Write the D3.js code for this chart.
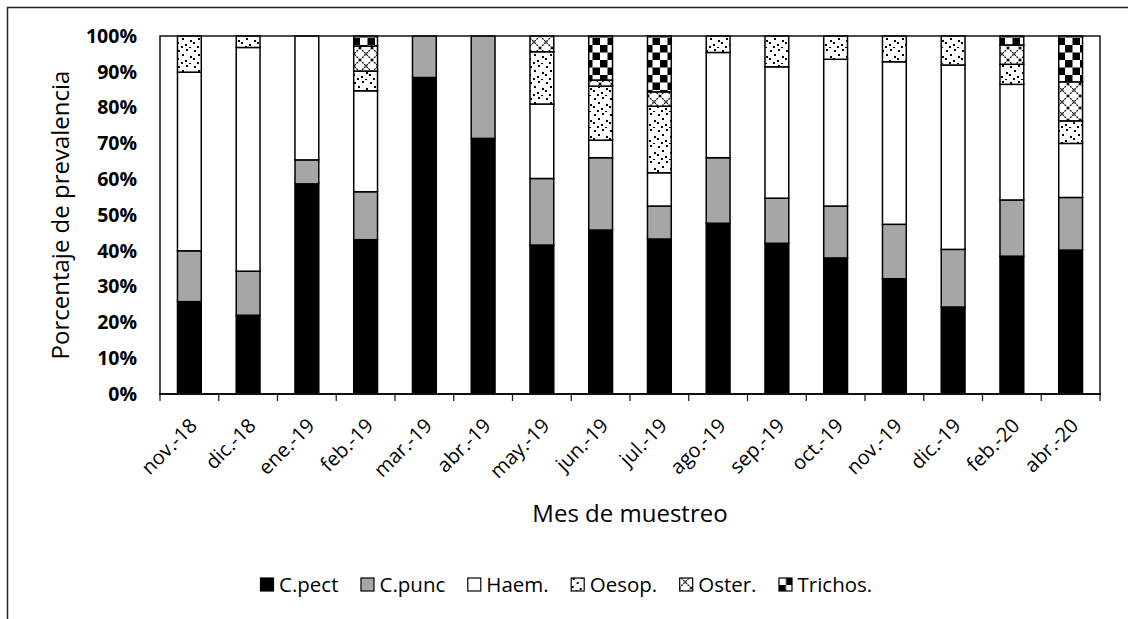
<!DOCTYPE html>
<html>
<head>
<meta charset="utf-8">
<script src="https://cdn.jsdelivr.net/npm/d3@7"></script>
<style>
  html, body { margin: 0; padding: 0; background: #fff; }
  svg { display: block; font-family: "Open Sans", "Noto Sans", sans-serif; }
</style>
</head>
<body>
<svg id="chart" width="1128" height="619"></svg>
<script>
const categories = ["nov.-18","dic.-18","ene.-19","feb.-19","mar.-19","abr.-19","may.-19","jun.-19","jul.-19","ago.-19","sep.-19","oct.-19","nov.-19","dic.-19","feb.-20","abr.-20"];
const seriesNames = ["C.pect","C.punc","Haem.","Oesop.","Oster.","Trichos."];
const cPect   = [25.8,22.0,58.7,43.1,88.4,71.4,41.6,45.8,43.3,47.7,42.1,38.0,32.2,24.3,38.5,40.2];
const cPunc   = [14.2,12.3, 6.7,13.4,11.6,28.6,18.6,20.2, 9.2,18.3,12.6,14.5,15.2,16.1,15.7,14.7];
const haem    = [49.9,62.5,34.6,28.2, 0.0, 0.0,20.8, 4.9, 9.3,29.4,36.7,41.0,45.4,51.5,32.3,15.1];
const oesop   = [10.1, 3.2, 0.0, 5.5, 0.0, 0.0,14.6,15.1,18.6, 4.6, 8.6, 6.5, 7.2, 8.1, 5.6, 6.3];
const oster   = [ 0.0, 0.0, 0.0, 7.0, 0.0, 0.0, 4.4, 1.7, 4.0, 0.0, 0.0, 0.0, 0.0, 0.0, 5.4,10.9];
const trichos = [ 0.0, 0.0, 0.0, 2.8, 0.0, 0.0, 0.0,12.3,15.6, 0.0, 0.0, 0.0, 0.0, 0.0, 2.5,12.8];
const yTicks  = [0,10,20,30,40,50,60,70,80,90,100];

const seriesValues = [cPect, cPunc, haem, oesop, oster, trichos];
const table = categories.map((c, i) => {
  const row = { cat: c };
  seriesNames.forEach((s, j) => row[s] = seriesValues[j][i]);
  return row;
});

const svg = d3.select("#chart");
const margin = { left: 160, right: 1100, top: 36, bottom: 394 };

// outer frame
svg.append("rect").attr("x", 7.5).attr("y", 7.5).attr("width", 1140).attr("height", 640)
  .attr("fill", "none").attr("stroke", "#222").attr("stroke-width", 1.5);

// patterns
const defs = svg.append("defs");
const pDots = defs.append("pattern").attr("id", "pOesop").attr("patternUnits", "userSpaceOnUse")
  .attr("width", 16).attr("height", 16);
pDots.append("rect").attr("width", 16).attr("height", 16).attr("fill", "#fff");
[[2,2],[10,1],[6,6],[14,8],[1,10],[9,12],[5,14],[13,15]].forEach(([x,y]) =>
  pDots.append("rect").attr("x", x).attr("y", y).attr("width", 2).attr("height", 2).attr("fill", "#000"));

const pOster = defs.append("pattern").attr("id", "pOster").attr("patternUnits", "userSpaceOnUse")
  .attr("width", 12).attr("height", 12);
pOster.append("rect").attr("width", 12).attr("height", 12).attr("fill", "#fff");
pOster.append("path").attr("d", "M0,0L12,12M12,0L0,12")
  .attr("stroke", "#000").attr("stroke-width", 1.2).attr("stroke-dasharray", "2,1").attr("fill", "none");

const pTri = defs.append("pattern").attr("id", "pTrichos").attr("patternUnits", "userSpaceOnUse")
  .attr("width", 15).attr("height", 15);
pTri.append("rect").attr("width", 15).attr("height", 15).attr("fill", "#fff");
pTri.append("rect").attr("x", 0).attr("y", 0).attr("width", 7.5).attr("height", 7.5).attr("fill", "#000");
pTri.append("rect").attr("x", 7.5).attr("y", 7.5).attr("width", 7.5).attr("height", 7.5).attr("fill", "#000");

const fills = {
  "C.pect": "#000000",
  "C.punc": "#a6a6a6",
  "Haem.": "#ffffff",
  "Oesop.": "url(#pOesop)",
  "Oster.": "url(#pOster)",
  "Trichos.": "url(#pTrichos)"
};

const x = d3.scaleBand().domain(categories).range([margin.left, margin.right])
  .paddingInner(0.595).paddingOuter(0.2975);
const y = d3.scaleLinear().domain([0, 100]).range([margin.bottom, margin.top]);

const stacked = d3.stack().keys(seriesNames)(table);

const gBars = svg.append("g");
stacked.forEach(layer => {
  gBars.append("g")
    .selectAll("rect")
    .data(layer.filter(d => d[1] - d[0] > 0))
    .join("rect")
    .attr("x", d => x(d.data.cat))
    .attr("width", x.bandwidth())
    .attr("y", d => y(d[1]))
    .attr("height", d => y(d[0]) - y(d[1]))
    .attr("fill", fills[layer.key])
    .attr("stroke", "#000")
    .attr("stroke-width", 1.5);
});

// plot border (top, right, left)
svg.append("path")
  .attr("d", `M${margin.left},${margin.bottom}V${margin.top}H${margin.right}V${margin.bottom}`)
  .attr("fill", "none").attr("stroke", "#111").attr("stroke-width", 1.5);

// y axis labels
const yAxis = svg.append("g").attr("transform", `translate(${margin.left},0)`)
  .call(d3.axisLeft(y).tickValues(yTicks).tickSize(0).tickPadding(23).tickFormat(d => d + "%"));
yAxis.select(".domain").remove();
yAxis.selectAll("text").attr("font-size", 19.5).attr("font-weight", "bold").attr("fill", "#000")
  .attr("font-family", "'Open Sans', sans-serif");

// x axis line and ticks at band boundaries
const boundaries = d3.range(categories.length + 1).map(i => margin.left + i * x.step());
svg.append("g").selectAll("line").data(boundaries).join("line")
  .attr("x1", d => d).attr("x2", d => d).attr("y1", margin.bottom).attr("y2", margin.bottom + 7)
  .attr("stroke", "#222").attr("stroke-width", 1.3);
svg.append("line").attr("x1", margin.left - 1).attr("x2", margin.right + 1)
  .attr("y1", margin.bottom).attr("y2", margin.bottom)
  .attr("stroke", "#111").attr("stroke-width", 2.2);

// x labels rotated
const xAxis = svg.append("g").attr("transform", `translate(0,${margin.bottom})`)
  .call(d3.axisBottom(x).tickSize(0).tickPadding(0));
xAxis.select(".domain").remove();
xAxis.selectAll(".tick text")
  .attr("font-size", 20).attr("fill", "#000").attr("font-family", "'Open Sans', sans-serif")
  .attr("text-anchor", "end")
  .attr("dy", "0.35em")
  .attr("transform", "translate(4,28) rotate(-45)")
  .attr("y", 0).attr("x", 0);

// axis titles
svg.append("text").attr("x", (margin.left + margin.right) / 2).attr("y", 522)
  .attr("text-anchor", "middle").attr("font-size", 24).attr("fill", "#000")
  .text("Mes de muestreo");
svg.append("text").attr("transform", "translate(69,215) rotate(-90)")
  .attr("text-anchor", "middle").attr("font-size", 24).attr("fill", "#000")
  .text("Porcentaje de prevalencia");

// legend
const legend = svg.append("g");
let lx = 260;
seriesNames.forEach(s => {
  const g = legend.append("g").attr("transform", `translate(${lx},0)`);
  g.append("rect").attr("x", 0.5).attr("y", 578).attr("width", 13).attr("height", 13)
    .attr("fill", fills[s]).attr("stroke", "#000").attr("stroke-width", 1.2);
  const t = g.append("text").attr("x", 19).attr("y", 592).attr("font-size", 20.5).attr("fill", "#000").text(s);
  lx += 19 + t.node().getComputedTextLength() + 22;
});
</script>
</body>
</html>
